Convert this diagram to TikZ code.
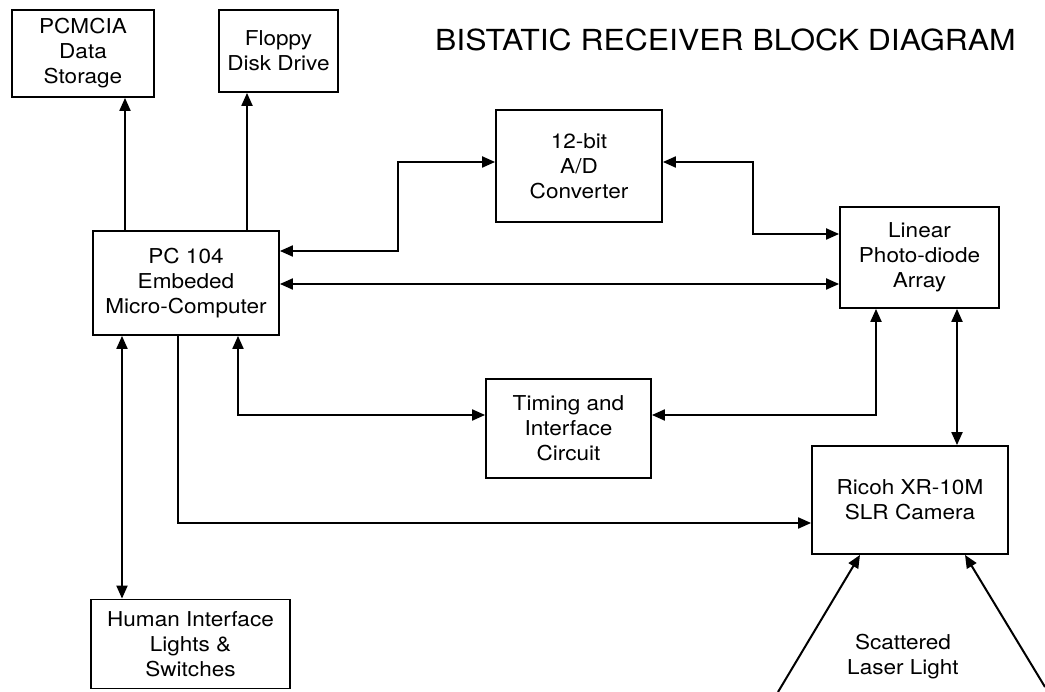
\documentclass[tikz,border=0pt]{standalone}
\usepackage{fontspec}
\setmainfont{TeX Gyre Heros}[FakeStretch=1.1]
\usetikzlibrary{arrows.meta}

\begin{document}
\begin{tikzpicture}[x=1pt, y=-1pt,
  block/.style={draw, line width=1.8pt, rectangle, align=center, inner sep=2pt,
                font=\fontsize{20.5}{25}\selectfont},
  arr/.style={-{Triangle[length=13pt,width=11pt]}, line width=2pt},
  biarr/.style={{Triangle[length=13pt,width=11pt]}-{Triangle[length=13pt,width=11pt]}, line width=2pt}
]
\useasboundingbox (0,0) rectangle (1045,692);
\node[anchor=west, inner sep=0, font=\fontsize{29}{34}\selectfont] (title) at (435,40)
  {BISTATIC RECEIVER BLOCK DIAGRAM};
\node[block, minimum width=142pt, minimum height=87pt]  (PCM) at (83,53.5)   {PCMCIA\\Data\\Storage};
\node[block, minimum width=119pt, minimum height=82pt]  (FDD) at (278.5,51)  {Floppy\\Disk Drive};
\node[block, minimum width=166pt, minimum height=112pt] (AD)  at (579,166)   {12-bit\\A/D\\Converter};
\node[block, minimum width=186pt, minimum height=104pt] (PC)  at (186,283)   {PC 104\\Embeded\\Micro-Computer};
\node[block, minimum width=159pt, minimum height=101pt] (LPA) at (919.5,257.5) {Linear\\Photo-diode\\Array};
\node[block, minimum width=165pt, minimum height=99pt]  (TIC) at (568.5,428.5) {Timing and\\Interface\\Circuit};
\node[block, minimum width=196pt, minimum height=108pt] (CAM) at (910,500)   {Ricoh XR-10M\\SLR Camera};
\node[block, minimum width=199pt, minimum height=89pt]  (HMI) at (190.5,644) {Human Interface\\Lights \&\\Switches};
\node[align=center, inner sep=0, font=\fontsize{20.5}{25}\selectfont] (SLL) at (903,657)
  {Scattered\\Laser Light};
\coordinate (L1) at (778,692);
\coordinate (L2) at (1045,687);
\draw[arr]   (PC.north -| 125,0) -- (PCM.south -| 125,0);
\draw[arr]   (PC.north -| 247,0) -- (FDD.south -| 247,0);
\draw[biarr] (PC.east |- 0,251) -| (398,162) -- (AD.west |- 0,162);
\draw[biarr] (AD.east |- 0,162) -| (753,234) -- (LPA.west |- 0,234);
\draw[biarr] (PC.east |- 0,284) -- (LPA.west |- 0,284);
\draw[biarr] (PC.south -| 122,0) -- (HMI.north -| 122,0);
\draw[arr]   (PC.south -| 178,0) |- (CAM.west |- 0,523);
\draw[biarr] (PC.south -| 238,0) |- (TIC.west |- 0,415);
\draw[biarr] (TIC.east |- 0,415) -| (LPA.south -| 876,0);
\draw[biarr] (LPA.south -| 957,0) -- (CAM.north -| 957,0);
\draw[arr]   (L1) -- (CAM.south -| 860,0);
\draw[arr]   (L2) -- (CAM.south -| 965,0);
\end{tikzpicture}
\end{document}
